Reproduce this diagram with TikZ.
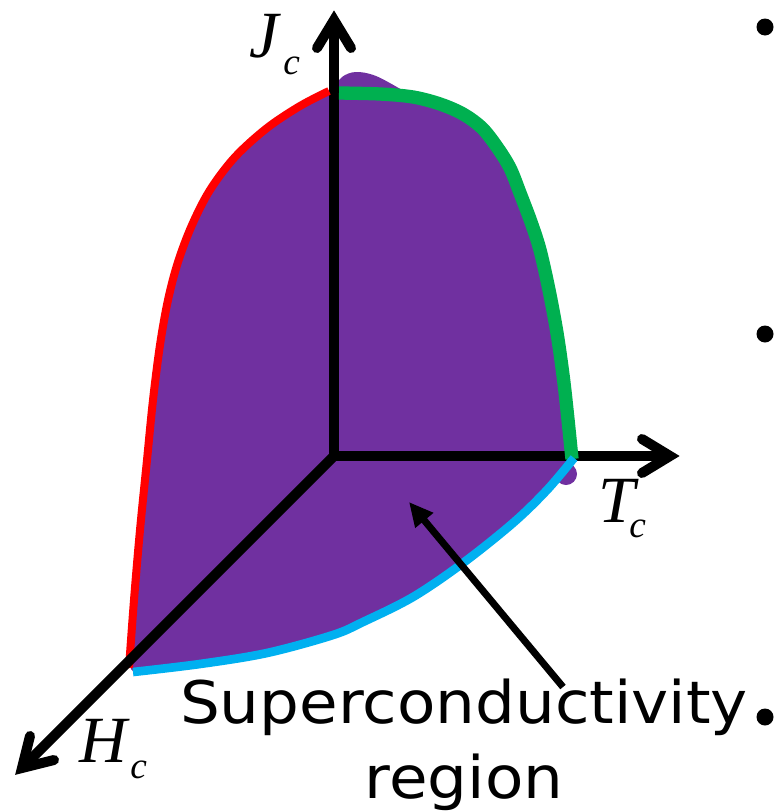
\documentclass[tikz,border=0pt]{standalone}
\usepackage{fontspec}
\newfontfamily\lserif{Liberation Serif}
\newfontfamily\dvs[FakeStretch=1.07]{DejaVu Sans}
\usetikzlibrary{arrows.meta}
\definecolor{regpurple}{RGB}{112,48,160}
\definecolor{hcred}{RGB}{255,0,0}
\definecolor{tcgreen}{RGB}{0,176,80}
\definecolor{jcblue}{RGB}{0,176,240}
\tikzset{
  axisline/.style={line width=7.5pt, line cap=butt, line join=miter, black},
  axishead/.style={line width=7.5pt, line cap=round, line join=miter, black},
  curve/.style={line cap=butt, line join=round},
  mainlbl/.style={inner sep=0pt, anchor=base west, font=\lserif\itshape\fontsize{49.5}{50}\selectfont},
  sublbl/.style={inner sep=0pt, anchor=base west, font=\lserif\itshape\fontsize{28}{30}\selectfont},
  textlbl/.style={inner sep=0pt, anchor=base, font=\dvs\fontsize{44}{56}\selectfont},
  bullet/.style={fill=black, draw=none}
}
\begin{document}
\begin{tikzpicture}[x=0.75pt, y=-0.75pt]
\useasboundingbox (0,0) rectangle (779,811);
% key points
\coordinate (O) at (334,456);
\coordinate (Jv) at (334,20);
\coordinate (Jl) at (317,48);
\coordinate (Jr) at (351,48);
\coordinate (Tv) at (670,456);
\coordinate (Tl) at (642,439);
\coordinate (Tr) at (642,473);
\coordinate (Hv) at (22,768);
\coordinate (Hl) at (30,736);
\coordinate (Hr) at (54,760);
% region fill
\fill[regpurple] plot[smooth, tension=0.55] coordinates {(131,669) (135,600) (141,530) (148,460) (154,400) (161,345) (169,300) (179,262) (193,225) (211,190) (236,157) (267,129) (300,107) (330,92)}
  -- plot[smooth, tension=0.6] coordinates {(334,88) (342,77) (356,72) (376,76) (402,90)}
  -- plot[smooth, tension=0.55] coordinates {(413,97) (440,104) (463,114) (482,128) (497,147) (510,168) (520,193) (531,222) (540,250) (549,290) (557,333) (563,375) (567,410) (572,457)}
  -- plot[smooth, tension=0.55] coordinates {(572,460) (547,490) (513,523) (463,563) (413,597) (363,622) (333,635) (267,653) (200,664) (133,671)}
  -- cycle;
\fill[regpurple] (566,474) circle[radius=11];
% J and T axes
\draw[axisline] (Jv) -- (O) -- (Tv);
\draw[axishead] (Jl) -- (Jv) -- (Jr);
\draw[axishead] (Tl) -- (Tv) -- (Tr);
% boundary curves
\draw[curve, hcred, line width=6pt] plot[smooth, tension=0.55] coordinates {(129,668) (134,600) (140,530) (147,460) (153,400) (160,345) (168,300) (178,262) (192,225) (210,190) (235,157) (267,128) (300,106) (329,91)};
\draw[curve, tcgreen, line width=10pt] plot[smooth, tension=0.55] coordinates {(339,93) (380,94) (413,97) (440,104) (463,114) (482,128) (497,147) (510,168) (520,193) (531,222) (540,250) (549,290) (557,333) (563,375) (567,410) (572,459)};
\draw[curve, jcblue, line width=6.5pt] plot[smooth, tension=0.55] coordinates {(574,458) (547,490) (513,523) (463,563) (413,597) (363,622) (333,635) (267,653) (200,664) (133,672)};
% H axis
\draw[axisline] (O) -- (Hv);
\draw[axishead] (Hl) -- (Hv) -- (Hr);
% labels
\node[mainlbl] (Jlbl) at (249,57) {J};
\node[sublbl] (Jsub) at (283,74) {c};
\node[mainlbl] (Tlbl) at (598,522) {T};
\node[sublbl] (Tsub) at (629,537) {c};
\node[mainlbl] (Hlbl) at (79,762) {H};
\node[sublbl] (Hsub) at (130,778) {c};
\node[textlbl] (reg1) at (464,723) {Superconductivity};
\node[textlbl] (reg2) at (464,798) {region};
% pointer
\coordinate (ptail) at (563,687);
\coordinate (phead) at (409,502);
\draw[line width=5.25pt, -{Triangle[length=18pt, width=16.5pt]}] (ptail) -- (phead);
% bullets
\fill[bullet] (765,27) circle[radius=8.5];
\fill[bullet] (765,334) circle[radius=8.5];
\fill[bullet] (765,717) circle[radius=8.5];
\end{tikzpicture}
\end{document}
